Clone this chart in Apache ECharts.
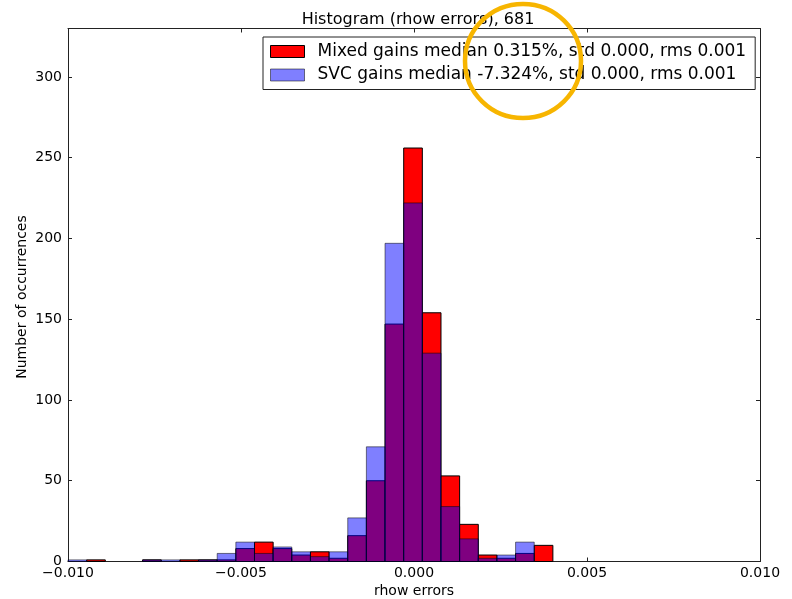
<!DOCTYPE html>
<html>
<head>
<meta charset="utf-8">
<title>Histogram (rhow errors)</title>
<script src="https://cdn.jsdelivr.net/npm/echarts@6/dist/echarts.min.js"></script>
<style>
  html, body { margin: 0; padding: 0; background: #fff; }
  #chart { width: 792px; height: 599px; }
</style>
</head>
<body>
<div id="chart"></div>
<script>
// histogram bins (same edges for both series)
var binStart = -0.0100;
var binWidth = 0.000539;
var mixedCounts = [0, 1, 0, 0, 1, 0, 1, 1, 1, 8, 12, 8, 4, 6, 2, 16, 50, 147, 256, 154, 53, 23, 4, 2, 5, 10];
var svcCounts   = [1, 0, 0, 0, 1, 1, 0, 1, 5, 12, 5, 9, 6, 3, 6, 27, 71, 197, 222, 129, 34, 14, 2, 4, 12, 0];
var xTicks = [-0.010, -0.005, 0.000, 0.005, 0.010];
var seriesNames = [
	'Mixed gains median 0.315%, std 0.000, rms 0.001',
	'SVC gains median -7.324%, std 0.000, rms 0.001'
];

function toBins(counts){
	var out = [];
	counts.forEach(function(c, i){
		var lo = binStart + i * binWidth;
		out.push([lo, lo + binWidth, c]);
	});
	return out;
}

function barRenderer(fill, stroke){
	return function(params, api){
		if (!api.value(2)) return null;
		var p0 = api.coord([api.value(0), 0]);
		var p1 = api.coord([api.value(1), api.value(2)]);
		return {
			type: 'rect',
			shape: {x: p0[0], y: p1[1], width: p1[0] - p0[0], height: p0[1] - p1[1]},
			style: {fill: fill, stroke: stroke, lineWidth: 1}
		};
	};
}

function fmtX(v){
	if (Math.abs(v) < 1e-12) return '0.000';
	return (v < 0 ? '\u2212' : '') + Math.abs(v).toFixed(3);
}

var font = 'DejaVu Sans';
var axisLine = {show: true, onZero: false, lineStyle: {color: '#222', width: 1}};
var tickIn = {show: true, inside: true, length: 4, lineStyle: {color: '#222'}};

var option = {
	animation: false,
	backgroundColor: '#fff',
	title: {
		text: 'Histogram (rhow errors), 681',
		left: 413, top: 7, textAlign: 'center',
		textStyle: {fontFamily: font, fontSize: 16, fontWeight: 'normal', color: '#000'}
	},
	grid: {left: 68, right: 32, top: 28.5, bottom: 37.5, containLabel: false, outerBoundsMode: 'none'},
	legend: {
		orient: 'vertical',
		left: 263, top: 37,
		padding: [6, 9, 6, 7],
		itemGap: 6.5,
		itemWidth: 34, itemHeight: 12,
		icon: 'rect',
		backgroundColor: '#fff',
		borderColor: '#222', borderWidth: 1, borderRadius: 0,
		selectedMode: false,
		textStyle: {fontFamily: font, fontSize: 17, color: '#000', padding: [0, 0, 0, 8]},
		data: [
			{name: seriesNames[0], itemStyle: {color: '#ff0000', borderColor: '#000', borderWidth: 1}},
			{name: seriesNames[1], itemStyle: {color: 'rgba(0,0,255,0.5)', borderColor: 'rgba(0,0,0,0.5)', borderWidth: 1}}
		]
	},
	xAxis: [{
		type: 'value', min: -0.010, max: 0.010, interval: 0.005,
		name: 'rhow errors', nameLocation: 'middle', nameGap: 23, nameMoveOverlap: false,
		nameTextStyle: {fontFamily: font, fontSize: 14, color: '#000'},
		axisLine: axisLine, axisTick: tickIn, splitLine: {show: false},
		axisLabel: {fontFamily: font, fontSize: 14, color: '#000', margin: 5, formatter: fmtX,
			customValues: xTicks}
	}, {
		type: 'value', position: 'top', min: -0.010, max: 0.010, interval: 0.005,
		axisLine: axisLine, axisTick: tickIn, splitLine: {show: false}, axisLabel: {show: false}
	}],
	yAxis: [{
		type: 'value', min: 0, max: 330, interval: 50,
		axisLine: axisLine, axisTick: tickIn, splitLine: {show: false},
		axisLabel: {fontFamily: font, fontSize: 14, color: '#000', margin: 6, showMaxLabel: false}
	}, {
		type: 'value', position: 'right', min: 0, max: 330, interval: 50,
		axisLine: axisLine, axisTick: tickIn, splitLine: {show: false}, axisLabel: {show: false}
	}],
	series: [{
		name: seriesNames[0],
		type: 'custom',
		renderItem: barRenderer('#ff0000', '#000'),
		itemStyle: {color: '#ff0000', borderColor: '#000', borderWidth: 1},
		encode: {x: [0, 1], y: 2},
		data: toBins(mixedCounts),
		z: 2
	}, {
		name: seriesNames[1],
		type: 'custom',
		renderItem: barRenderer('rgba(0,0,255,0.5)', 'rgba(0,0,0,0.5)'),
		itemStyle: {color: 'rgba(0,0,255,0.5)', borderColor: 'rgba(0,0,0,0.5)', borderWidth: 1},
		encode: {x: [0, 1], y: 2},
		data: toBins(svcCounts),
		z: 3
	}],
	graphic: [{
		// y axis title
		type: 'text',
		x: 22, y: 297,
		rotation: Math.PI / 2,
		style: {text: 'Number of occurrences', fontFamily: font, fontSize: 14, fill: '#000',
			textAlign: 'center', textVerticalAlign: 'middle'}
	}, {
		type: 'ellipse',
		shape: {cx: 523, cy: 61, rx: 58, ry: 57},
		style: {fill: null, stroke: '#f7b500', lineWidth: 4.5},
		z: 100
	}]
};

var myChart = echarts.init(document.getElementById('chart'));
myChart.setOption(option);
</script>
</body>
</html>
